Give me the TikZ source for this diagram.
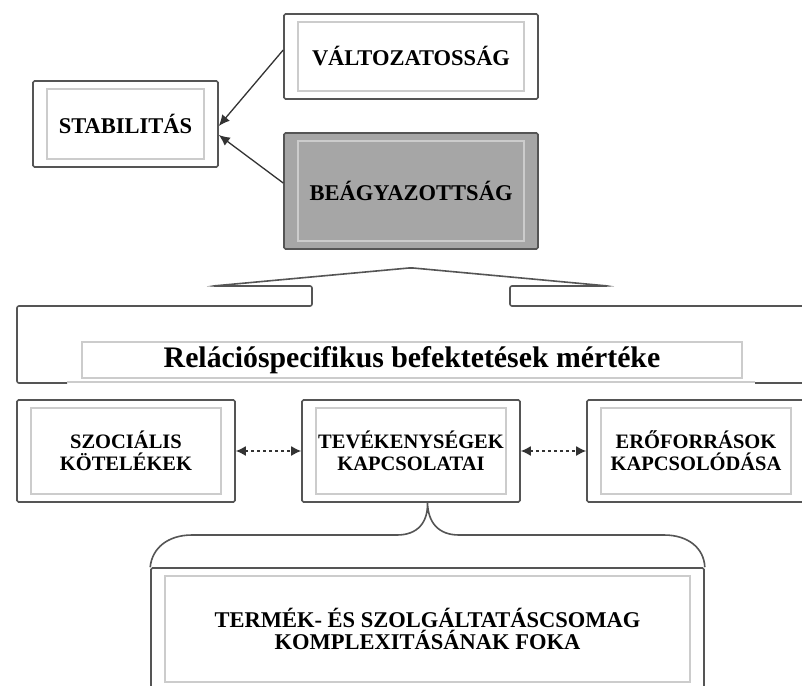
\documentclass[tikz,border=0pt]{standalone}
\usepackage{fontspec}
\setmainfont{Liberation Serif}
\usetikzlibrary{arrows.meta, positioning, calc}

\definecolor{boxline}{HTML}{555555}
\definecolor{boxinner}{HTML}{CCCCCC}
\definecolor{boxshade}{HTML}{A6A6A6}

\begin{document}
\begin{tikzpicture}[
  x=1pt, y=-1pt,
  % Double-framed box; fill supplied per node as box=<colour>
  box/.style={
    rectangle, rounded corners=1.5pt,
    draw=boxline, line width=1.6pt,
    fill=#1,
    minimum width=218pt, minimum height=102pt,
    align=center, inner sep=0pt,
    font=\bfseries\fontsize{20.5}{22}\selectfont,
    path picture={
      \draw[boxinner, line width=1.2pt, sharp corners]
        ($(path picture bounding box.south west)+(14pt,8pt)$) rectangle
        ($(path picture bounding box.north east)+(-14pt,-8pt)$);
    }
  },
  box/.default=white,
  big/.style={font=\bfseries\fontsize{22.5}{22}\selectfont},
  title/.style={
    rectangle, draw=boxinner, line width=1.2pt,
    minimum width=660pt, minimum height=36pt,
    inner sep=0pt, font=\bfseries\fontsize{29.8}{32}\selectfont
  },
  frame/.style={draw=boxline, line width=1.6pt, rounded corners=2pt},
  arr/.style={-{Latex[length=11pt,width=10pt]}, black!80, line width=1.3pt},
  darr/.style={{Latex[length=10pt,width=10pt]}-{Latex[length=10pt,width=10pt]},
    black!80, line width=1.5pt, dash pattern=on 3pt off 3pt},
]

\useasboundingbox (0,0) rectangle (802,685);
\fill[white] (0,0) rectangle (802,685);
\clip (0,0) rectangle (802,685);

%% -- Top: stability and its two sources ------------------------------------
\node[box, big, minimum width=185pt, minimum height=86pt] (stab) at (125.5,124) {STABILITÁS};
\node[box, big, minimum width=254pt, minimum height=85pt] (valt) at (411,56.5) {VÁLTOZATOSSÁG};
\node[box=boxshade, big, minimum width=254pt, minimum height=116pt] (beag) at (411,191) {BEÁGYAZOTTSÁG};

\draw[arr] ([yshift=6.5pt]valt.west) -- ([yshift=-2pt]stab.east);
\draw[arr] ([yshift=8pt]beag.west)   -- ([yshift=-11pt]stab.east);

%% -- Middle: callout with the title ----------------------------------------
\node[title] (rel) at (412,360) {Relációspecifikus befektetések mértéke};

\coordinate (peak) at ($(beag.south)+(0,18)$);
\draw[frame] (67,383) -- (17,383) -- (17,306) -- (312,306) -- (312,286)
  -- (213,286) -- (peak) -- (608,286) -- (510,286) -- (510,306)
  -- (815,306) -- (815,383) -- (755,383);
\draw[boxinner, line width=1.4pt] (67,382) -- (755,382);

%% -- Row of three linkage types --------------------------------------------
\node[box] (szoc) at (126,451) {SZOCIÁLIS\\KÖTELÉKEK};
\node[box] (tev)  at (411,451) {TEVÉKENYSÉGEK\\KAPCSOLATAI};
\node[box] (ero)  at (696,451) {ERŐFORRÁSOK\\KAPCSOLÓDÁSA};

\draw[darr] (szoc) -- (tev);
\draw[darr] (tev)  -- (ero);

%% -- Bottom: complexity box under a brace ----------------------------------
\node[box, big, minimum width=553pt, minimum height=122pt] (term) at (427.5,629)
  {TERMÉK- ÉS SZOLGÁLTATÁSCSOMAG\\KOMPLEXITÁSÁNAK FOKA};

\coordinate (tip) at (term.north |- tev.south);
\draw[boxline, line width=1.6pt] (term.north west)
  .. controls (152,548) and (168,535) .. (192,535) -- (397,535)
  .. controls (418,535) and (428,522) .. (tip)
  .. controls (428,522) and (438,535) .. (459,535) -- (664,535)
  .. controls (688,535) and (704,548) .. (term.north east);

\end{tikzpicture}
\end{document}
